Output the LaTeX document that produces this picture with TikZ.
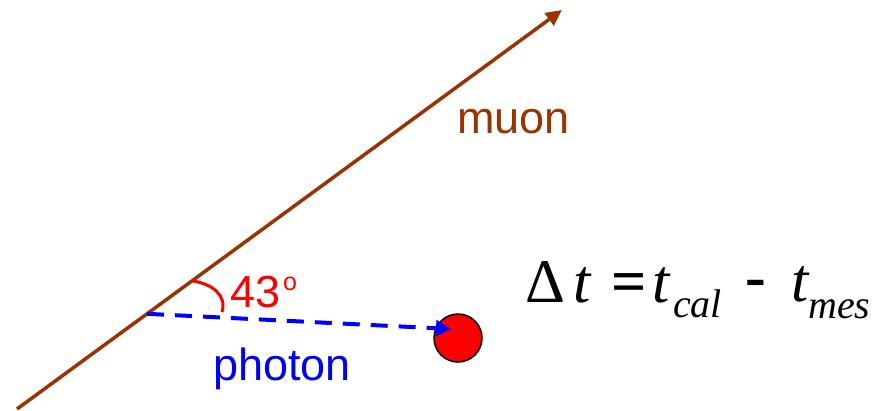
\documentclass[tikz,border=0pt]{standalone}
\usepackage{fontspec}
\setmainfont{Liberation Sans}
\newfontfamily\tnrfam{Liberation Serif}
\usetikzlibrary{arrows.meta}
\definecolor{muonbrown}{RGB}{153,51,0}
\tikzset{
  lbl/.style={inner sep=0pt, anchor=base west},
  sanslbl/.style={lbl, font=\fontsize{45}{45}\selectfont},
  equp/.style={lbl, font={\fontspec{Liberation Serif}\fontsize{62}{62}\selectfont}},
  eqbf/.style={lbl, font={\fontspec{Liberation Serif Bold}\fontsize{62}{62}\selectfont}},
  eqit/.style={lbl, font={\fontspec{Liberation Serif Italic}\fontsize{62}{62}\selectfont}},
  eqsmall/.style={lbl, font={\fontspec{Liberation Serif Italic}\fontsize{40}{40}\selectfont}},
}
\begin{document}
\begin{tikzpicture}[x=1pt,y=-1pt]
\useasboundingbox (0,0) rectangle (883,410);
% muon
\coordinate (mstart) at (17,409);
\coordinate (mend) at (562,10);
\coordinate (ph) at (147,313.8);
\draw[muonbrown, line width=3.5pt, -{Triangle[length=16pt,width=15pt]}] (mstart) -- (mend);
% target
\node[circle, draw=black, line width=1.5pt, fill=red, minimum size=48pt, inner sep=0pt] (ball) at (458,338) {};
\coordinate (phend) at (451,329);
\draw[blue, line width=4pt, dash pattern=on 17pt off 11pt, -{Triangle[length=15pt,width=16pt]}] (ph) -- (phend);
% angle
\coordinate (a1) at (193,281);
\coordinate (a2) at (222,312);
\draw[red, line width=3pt] (a1) .. controls (212,284) and (227,295) .. (a2);
% labels
\node[sanslbl, text=red] (ang) at (230,307) {43};
\node[lbl, text=red, font=\fontsize{25}{25}\selectfont] (deg) at (283,290) {o};
\node[sanslbl, text=muonbrown] (muon) at (457,133) {muon};
\node[sanslbl, text=blue] (photon) at (213,380) {photon};
% equation
\node[equp] (delta) at (525,302) {Δ};
\node[eqit] (t0) at (573,302) {t};
\node[eqbf] (eq) at (611,302) {=};
\node[eqit] (t1) at (652,302) {t};
\node[eqsmall] (cal) at (673,317) {cal};
\node[eqbf] (minus) at (745,297) {-};
\node[eqit] (t2) at (791,301) {t};
\node[eqsmall] (mes) at (808,318) {mes};
\end{tikzpicture}
\end{document}
